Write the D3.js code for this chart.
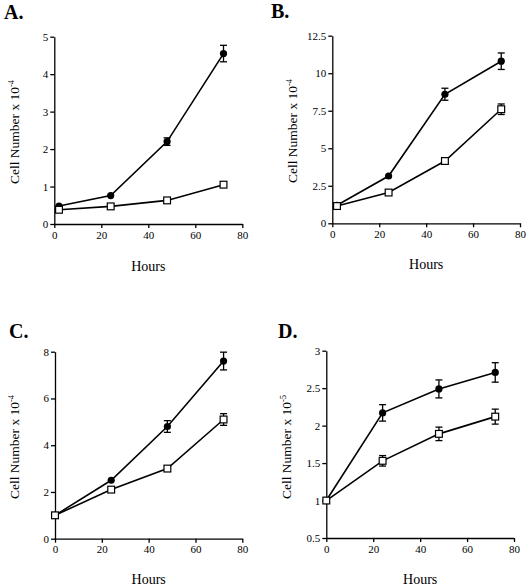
<!DOCTYPE html>
<html><head><meta charset="utf-8">
<script src="https://cdn.jsdelivr.net/npm/d3@7"></script>
<style>
body{margin:0;background:#fff}
svg{display:block}
svg text{font-family:"Liberation Serif","Times New Roman","DejaVu Serif",serif !important;}
</style>
</head><body>
<script>
// ---- data ----
const hoursA = [2, 24, 48, 72];
const filledA = [0.48, 0.76, 2.2, 4.55];
const filledErrA = [0.04, 0.04, 0.1, 0.22];
const openA = [0.38, 0.47, 0.63, 1.05];
const openErrA = [0.03, 0.03, 0.03, 0.04];

const hoursB = [2, 24, 48, 72];
const filledB = [1.2, 3.15, 8.6, 10.8];
const filledErrB = [0.1, 0.12, 0.4, 0.55];
const openB = [1.15, 2.05, 4.15, 7.6];
const openErrB = [0.1, 0.1, 0.12, 0.35];

const hoursC = [0, 24, 48, 72];
const filledC = [1.0, 2.5, 4.8, 7.6];
const filledErrC = [0.05, 0.08, 0.25, 0.38];
const openC = [1.0, 2.1, 3.0, 5.1];
const openErrC = [0.05, 0.06, 0.08, 0.25];

const hoursD = [0, 24, 48, 72];
const filledD = [1.0, 2.17, 2.49, 2.71];
const filledErrD = [0.03, 0.11, 0.12, 0.13];
const openD = [1.0, 1.53, 1.89, 2.12];
const openErrD = [0.03, 0.07, 0.09, 0.1];

const xTicks = [0, 20, 40, 60, 80];
const yTicksA = [0, 1, 2, 3, 4, 5];
const yTicksB = [0, 2.5, 5, 7.5, 10, 12.5];
const yTicksC = [0, 2, 4, 6, 8];
const yTicksD = [0.5, 1, 1.5, 2, 2.5, 3];
const panelLetters = ["A.", "B.", "C.", "D."];
const exponents = ["-4", "-4", "-4", "-5"];
const xTitle = "Hours";
const yTitle = "Cell Number x 10";

// ---- layout ----
const W = 529, H = 588;
const panels = [
  {hours: hoursA, f: filledA, fe: filledErrA, o: openA, oe: openErrA, yt: yTicksA,
   x0: 54.3, x1: 242.3, yb: 224, yt0: 36.7, letter: [4, 18.5], xtY: 271, ytX: 14, ytY: 132},
  {hours: hoursB, f: filledB, fe: filledErrB, o: openB, oe: openErrB, yt: yTicksB,
   x0: 332.3, x1: 520, yb: 223.3, yt0: 35.7, letter: [271, 17.5], xtY: 269, ytX: 292, ytY: 131},
  {hours: hoursC, f: filledC, fe: filledErrC, o: openC, oe: openErrC, yt: yTicksC,
   x0: 55, x1: 242.3, yb: 538.7, yt0: 351.7, letter: [9, 338], xtY: 584, ytX: 14, ytY: 447},
  {hours: hoursD, f: filledD, fe: filledErrD, o: openD, oe: openErrD, yt: yTicksD,
   x0: 326.3, x1: 514, yb: 538, yt0: 350.7, letter: [278, 338], xtY: 584, ytX: 286, ytY: 447}
];

const svg = d3.select("body").append("svg").attr("width", W).attr("height", H);

panels.forEach((p, i) => {
  const x = d3.scaleLinear().domain([0, 80]).range([p.x0, p.x1]);
  const y = d3.scaleLinear().domain([p.yt[0], p.yt[p.yt.length - 1]]).range([p.yb, p.yt0]);
  const g = svg.append("g");

  const xa = g.append("g").attr("transform", `translate(0,${p.yb})`)
    .call(d3.axisBottom(x).tickValues(xTicks).tickSize(4).tickPadding(3).tickSizeOuter(0));
  const ya = g.append("g").attr("transform", `translate(${p.x0},0)`)
    .call(d3.axisLeft(y).tickValues(p.yt).tickSize(4).tickPadding(2).tickSizeOuter(0)
      .tickFormat(d3.format("~g")));
  [xa, ya].forEach(a => {
    a.attr("font-family", null).attr("font-size", null);
    a.selectAll("path,line").attr("stroke", "#000").attr("stroke-width", 1.3);
    a.selectAll("text").attr("font-size", 11).attr("fill", "#000");
  });

  // lines
  const line = d3.line().x(d => x(d[0])).y(d => y(d[1]));
  const fpts = p.hours.map((h, k) => [h, p.f[k], p.fe[k]]);
  const opts = p.hours.map((h, k) => [h, p.o[k], p.oe[k]]);
  [fpts, opts].forEach(pts => {
    g.append("path").datum(pts).attr("d", line).attr("fill", "none")
      .attr("stroke", "#000").attr("stroke-width", 1.6);
  });
  // error bars
  [fpts, opts].forEach(pts => {
    pts.forEach(d => {
      const yl = y(d[1] - d[2]), yh = y(d[1] + d[2]);
      if (Math.abs(yl - yh) < 7) return;
      g.append("line").attr("x1", x(d[0])).attr("x2", x(d[0])).attr("y1", yl).attr("y2", yh)
        .attr("stroke", "#000").attr("stroke-width", 1.3);
      [yl, yh].forEach(yy => g.append("line").attr("x1", x(d[0]) - 3.5).attr("x2", x(d[0]) + 3.5)
        .attr("y1", yy).attr("y2", yy).attr("stroke", "#000").attr("stroke-width", 1.3));
    });
  });
  // markers
  g.selectAll(".f").data(fpts).enter().append("circle")
    .attr("cx", d => x(d[0])).attr("cy", d => y(d[1])).attr("r", 3.6).attr("fill", "#000");
  g.selectAll(".o").data(opts).enter().append("rect")
    .attr("x", d => x(d[0]) - 3.4).attr("y", d => y(d[1]) - 3.4)
    .attr("width", 6.8).attr("height", 6.8).attr("fill", "#fff")
    .attr("stroke", "#000").attr("stroke-width", 1.2);

  // titles
  g.append("text").attr("x", (p.x0 + p.x1) / 2).attr("y", p.xtY).attr("text-anchor", "middle")
    .attr("font-size", 14).text(xTitle);
  const yt = g.append("text").attr("transform", `translate(${p.ytX},${p.ytY}) rotate(-90)`)
    .attr("text-anchor", "middle").attr("dy", "0.35em").attr("font-size", 13.5);
  yt.append("tspan").text(yTitle);
  yt.append("tspan").attr("font-size", 8.5).attr("dy", "-0.55em").text(exponents[i]);

  g.append("text").attr("x", p.letter[0]).attr("y", p.letter[1]).attr("font-size", 20)
    .attr("font-weight", "bold").text(panelLetters[i]);
});
</script>
</body></html>
